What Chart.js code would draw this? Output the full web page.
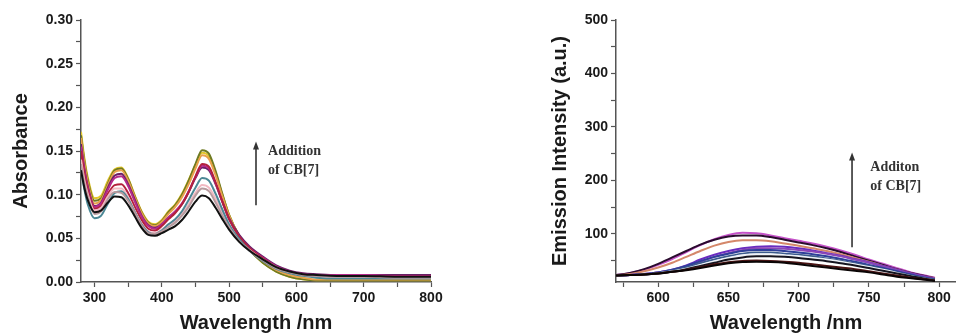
<!DOCTYPE html>
<html>
<head>
<meta charset="utf-8">
<script src="https://cdn.jsdelivr.net/npm/chart.js@4.4.0/dist/chart.umd.min.js"></script>
<style>
body{margin:0;background:#fff;width:956px;height:335px;overflow:hidden;position:relative}
#absChart{position:absolute;left:0;top:0}
#emChart{position:absolute;left:480px;top:0}
</style>
</head>
<body>
<canvas id="absChart" width="460" height="335"></canvas>
<canvas id="emChart" width="476" height="335"></canvas>
<script>
// UV-vis titration (left panel)
var absWl = [280,285,290,300,310,320,330,340,350,360,370,380,390,400,410,420,430,440,450,460,470,480,490,500,515,530,550,570,590,610,630,660,700,750,800]
var absBlack   = [0.128,0.108,0.094,0.080,0.082,0.091,0.098,0.097,0.088,0.075,0.062,0.054,0.053,0.056,0.060,0.064,0.071,0.081,0.092,0.099,0.096,0.085,0.072,0.060,0.046,0.036,0.026,0.017,0.012,0.009,0.008,0.007,0.007,0.006,0.006]
var absRosy    = [0.135,0.113,0.098,0.078,0.081,0.095,0.103,0.102,0.093,0.079,0.065,0.056,0.055,0.058,0.063,0.068,0.076,0.086,0.099,0.107,0.104,0.091,0.076,0.063,0.047,0.036,0.025,0.016,0.011,0.008,0.007,0.006,0.006,0.005,0.005]
var absTeal    = [0.130,0.106,0.089,0.073,0.076,0.090,0.102,0.104,0.095,0.080,0.066,0.057,0.055,0.059,0.066,0.072,0.081,0.094,0.108,0.119,0.116,0.101,0.083,0.066,0.049,0.036,0.024,0.015,0.010,0.007,0.005,0.004,0.004,0.004,0.004]
var absPink    = [0.140,0.117,0.101,0.082,0.085,0.098,0.107,0.107,0.097,0.081,0.067,0.058,0.056,0.060,0.066,0.070,0.078,0.089,0.102,0.111,0.108,0.095,0.079,0.064,0.048,0.037,0.026,0.017,0.011,0.008,0.007,0.006,0.006,0.005,0.005]
var absCrimson = [0.150,0.124,0.105,0.084,0.087,0.101,0.111,0.112,0.102,0.086,0.071,0.061,0.059,0.064,0.072,0.079,0.089,0.103,0.121,0.135,0.132,0.114,0.092,0.072,0.052,0.039,0.027,0.017,0.011,0.008,0.007,0.007,0.006,0.006,0.006]
var absMagenta = [0.155,0.128,0.108,0.086,0.090,0.106,0.119,0.121,0.110,0.092,0.075,0.064,0.061,0.066,0.074,0.081,0.090,0.104,0.120,0.133,0.130,0.113,0.092,0.072,0.052,0.039,0.028,0.018,0.012,0.009,0.008,0.008,0.008,0.007,0.007]
var absPurple  = [0.158,0.130,0.110,0.087,0.091,0.108,0.122,0.124,0.112,0.094,0.076,0.065,0.062,0.066,0.074,0.080,0.089,0.103,0.119,0.131,0.128,0.112,0.092,0.073,0.054,0.041,0.029,0.019,0.013,0.010,0.009,0.008,0.008,0.008,0.008]
var absOrange  = [0.165,0.136,0.114,0.090,0.094,0.111,0.126,0.128,0.116,0.097,0.079,0.067,0.064,0.069,0.078,0.086,0.097,0.112,0.130,0.145,0.141,0.122,0.098,0.076,0.053,0.038,0.024,0.014,0.008,0.005,0.003,0.003,0.003,0.003,0.003]
var absOlive   = [0.168,0.139,0.117,0.093,0.096,0.113,0.128,0.130,0.118,0.098,0.080,0.068,0.065,0.070,0.080,0.088,0.100,0.116,0.135,0.151,0.147,0.127,0.101,0.077,0.053,0.037,0.022,0.012,0.006,0.003,0.002,0.002,0.002,0.002,0.002]
var absYellow  = [0.172,0.142,0.120,0.096,0.099,0.116,0.129,0.131,0.119,0.099,0.081,0.069,0.066,0.071,0.081,0.089,0.101,0.117,0.134,0.148,0.144,0.125,0.100,0.077,0.053,0.037,0.022,0.012,0.006,0.003,0.002,0.002,0.002,0.002,0.002]
var absXTicks = [300,350,400,450,500,550,600,650,700,750,800]
var absYTicks = [0,0.025,0.05,0.075,0.10,0.125,0.15,0.175,0.20,0.225,0.25,0.275,0.30]

// emission titration (right panel)
var emWl = [570,580,590,600,610,620,630,640,650,660,670,680,690,700,710,720,730,740,750,760,770,780,790,797]
var emBlackLow = [22,23,24,26,29,32,36,41,45,47.5,48,47.5,46,43,40,37,34,31,28,24,20,17,14,12]
var emDarkRed  = [22,23,24,26,29,33,38,43,47,49.5,50,49.5,48,46,43,40,37,34,30,26,22,18,15,13]
var emBlackMid = [22,23,24,26,29,34,40,46,52,56,58,58,57,55,52,49,45,41,36,31,26,21,16,13]
var emWhite    = [22,23,24,26,30,35,42,49,55,60,62,62,60,58,55,52,48,43,38,33,27,21,16,13]
var emSteel    = [22,23,24,27,31,37,45,52,58,63,65,65,63,61,58,54,50,45,40,34,28,22,17,14]
var emBlue     = [22,23,25,28,33,40,49,57,63,68,70,70,68,65,62,58,53,48,42,36,30,24,18,15]
var emPurple   = [22,23,25,28,32,39,48,57,64,70,73,73,72,70,67,63,58,52,46,39,32,25,19,15]
var emViolet   = [22,23,25,28,33,41,52,61,68,73,76,77,76,73,69,64,59,53,47,40,33,26,20,16]
var emSalmon   = [22,25,30,37,46,57,68,78,85,88,88,86,82,78,73,68,62,55,48,40,33,26,20,17]
var emDark     = [23,27,34,44,56,68,80,89,95,97,97,94,89,84,79,73,66,58,50,42,34,27,21,17]
var emMagenta  = [23,27,33,42,53,66,79,90,98,102,101,97,92,87,82,76,69,61,52,44,36,28,22,18]
var emXTicks = [575,600,625,650,675,700,725,750,775,800]
var emYTicks = [50,100,150,200,250,300,350,400,450,500]

var ink = '#1a1a1a'
var axisCol = '#555'
var tickFont = {family: 'Liberation Sans', weight: 'bold', size: 14}
var titleFont = {family: 'Liberation Sans', weight: 'bold', size: 20}

function pts(xs, ys) {
	return xs.map(function (x, i) { return {x: x, y: ys[i]} })
}

function line(xs, ys, color) {
	return {
		data: pts(xs, ys),
		borderColor: color,
		borderWidth: 2,
		pointRadius: 0,
		fill: false,
		cubicInterpolationMode: 'monotone'
	}
}

function isMultiple(v, step) {
	return Math.abs(v / step - Math.round(v / step)) < 1e-6
}

// arrow + "Addition of CB[7]" note, placed in data units
var arrowNote = {
	id: 'arrowNote',
	afterDraw: function (chart, args, o) {
		var ctx = chart.ctx
		var x = chart.scales.x, y = chart.scales.y
		var ax = x.getPixelForValue(o.x)
		var yBot = y.getPixelForValue(o.y0)
		var yTop = y.getPixelForValue(o.y1)
		ctx.save()
		ctx.strokeStyle = '#333'
		ctx.fillStyle = '#333'
		ctx.lineWidth = 1.6
		ctx.beginPath()
		ctx.moveTo(ax, yBot)
		ctx.lineTo(ax, yTop + 6)
		ctx.stroke()
		ctx.beginPath()
		ctx.moveTo(ax, yTop)
		ctx.lineTo(ax - 3, yTop + 8)
		ctx.lineTo(ax + 3, yTop + 8)
		ctx.closePath()
		ctx.fill()
		ctx.font = 'bold 14px "Liberation Serif"'
		ctx.textAlign = 'left'
		ctx.textBaseline = 'middle'
		ctx.fillText(o.line1, x.getPixelForValue(o.tx), y.getPixelForValue(o.ty1))
		ctx.fillText(o.line2, x.getPixelForValue(o.tx), y.getPixelForValue(o.ty2))
		ctx.restore()
	}
}

function axisCommon() {
	return {
		border: {display: true, color: axisCol, width: 1.5},
		grid: {display: true, drawOnChartArea: false, drawTicks: true, tickLength: 5, tickColor: axisCol, tickWidth: 1.2}
	}
}

// Graph absorbance
var absSets = [
	line(absWl, absBlack, '#111111'),
	line(absWl, absRosy, '#b79a9e'),
	line(absWl, absTeal, '#4b8795'),
	line(absWl, absPink, '#f2b9c2'),
	line(absWl, absCrimson, '#b3203c'),
	line(absWl, absMagenta, '#b52a8c'),
	line(absWl, absPurple, '#6b1f66'),
	line(absWl, absOrange, '#e8a14a'),
	line(absWl, absOlive, '#6e7a22'),
	line(absWl, absYellow, '#e3c62a')
]

var absX = axisCommon()
absX.type = 'linear'
absX.min = 280
absX.max = 800
absX.afterBuildTicks = function (s) { s.ticks = absXTicks.map(function (v) { return {value: v} }) }
absX.afterFit = function (s) { s.height = 53 }
absX.ticks = {autoSkip: false, maxRotation: 0, padding: 3, color: ink, font: tickFont,
	callback: function (v) { return isMultiple(v, 100) ? String(v) : '' }}
absX.title = {display: true, text: 'Wavelength /nm', color: ink, font: titleFont, padding: {top: 0, bottom: 0}}

var absY = axisCommon()
absY.min = 0
absY.max = 0.30
absY.afterBuildTicks = function (s) { s.ticks = absYTicks.map(function (v) { return {value: v} }) }
absY.afterFit = function (s) { s.width = 81 }
absY.ticks = {autoSkip: false, padding: 3, color: ink, font: tickFont,
	callback: function (v) { return isMultiple(v, 0.05) ? v.toFixed(2) : '' }}
absY.title = {display: true, text: 'Absorbance', color: ink, font: titleFont, padding: {top: 9, bottom: 0}}

new Chart(document.getElementById('absChart').getContext('2d'), {
	type: 'line',
	data: {datasets: absSets},
	plugins: [arrowNote],
	options: {
		responsive: false,
		animation: false,
		layout: {padding: {top: 20, right: 29, bottom: 0, left: 0}},
		plugins: {
			legend: {display: false},
			tooltip: {enabled: false},
			arrowNote: {x: 540, y0: 0.088, y1: 0.161, tx: 558, ty1: 0.149, ty2: 0.128, line1: 'Addition', line2: 'of CB[7]'}
		},
		scales: {x: absX, y: absY}
	}
})

// Graph emission
var emSets = [
	line(emWl, emBlackLow, '#0a0505'),
	line(emWl, emDarkRed, '#4a1414'),
	line(emWl, emBlackMid, '#151520'),
	line(emWl, emWhite, '#eef2f8'),
	line(emWl, emSteel, '#3b5b8c'),
	line(emWl, emBlue, '#2e3f9a'),
	line(emWl, emPurple, '#8a46b8'),
	line(emWl, emViolet, '#6a2cc0'),
	line(emWl, emSalmon, '#d4876a'),
	line(emWl, emDark, '#2a0c2e'),
	line(emWl, emMagenta, '#c552c9')
]

var emX = axisCommon()
emX.type = 'linear'
emX.min = 570
emX.max = 812
emX.afterBuildTicks = function (s) { s.ticks = emXTicks.map(function (v) { return {value: v} }) }
emX.afterFit = function (s) { s.height = 53 }
emX.ticks = {autoSkip: false, maxRotation: 0, padding: 3, color: ink, font: tickFont,
	callback: function (v) { return isMultiple(v, 50) ? String(v) : '' }}
emX.title = {display: true, text: 'Wavelength /nm', color: ink, font: titleFont, padding: {top: 0, bottom: 0}}

var emY = axisCommon()
emY.min = 10
emY.max = 500
emY.afterBuildTicks = function (s) { s.ticks = emYTicks.map(function (v) { return {value: v} }) }
emY.afterFit = function (s) { s.width = 136 }
emY.ticks = {autoSkip: false, padding: 3, color: ink, font: tickFont,
	callback: function (v) { return isMultiple(v, 100) ? String(v) : '' }}
emY.title = {display: true, text: 'Emission Intensity (a.u.)', color: ink, font: titleFont, padding: {top: 68, bottom: 0}}

new Chart(document.getElementById('emChart').getContext('2d'), {
	type: 'line',
	data: {datasets: emSets},
	plugins: [arrowNote],
	options: {
		responsive: false,
		animation: false,
		layout: {padding: {top: 20, right: 0, bottom: 0, left: 0}},
		plugins: {
			legend: {display: false},
			tooltip: {enabled: false},
			arrowNote: {x: 738, y0: 75, y1: 252, tx: 751, ty1: 224, ty2: 188, line1: 'Additon', line2: 'of CB[7]'}
		},
		scales: {x: emX, y: emY}
	}
})
</script>
</body>
</html>
